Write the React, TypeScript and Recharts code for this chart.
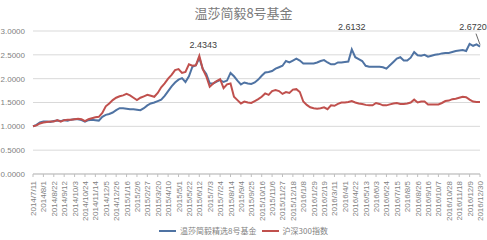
import React from "react";
import { LineChart, Line, XAxis, YAxis, CartesianGrid, LabelList } from "recharts";

const TITLE = "温莎简毅8号基金";
const FUND_NAME = "温莎简毅精选8号基金";
const INDEX_NAME = "沪深300指数";
const START_DATE = "2014-07-11";
const Y_TICKS = [0, 0.5, 1, 1.5, 2, 2.5, 3];

const FUND = [
  1.0, 1.03, 1.08, 1.1, 1.1, 1.09, 1.11, 1.12, 1.11, 1.13,
  1.12, 1.14, 1.15, 1.15, 1.13, 1.1, 1.13, 1.14, 1.13, 1.12,
  1.2, 1.24, 1.26, 1.29, 1.34, 1.38, 1.38, 1.37, 1.36, 1.36,
  1.35, 1.34, 1.38, 1.44, 1.48, 1.5, 1.53, 1.56, 1.64, 1.74,
  1.84, 1.92, 1.98, 2.01, 1.93, 2.05, 2.25, 2.28, 2.4343, 2.2,
  2.1, 1.9, 1.9, 1.94, 1.97, 1.93, 1.96, 2.12, 2.05, 1.96,
  1.88, 1.92, 1.9, 1.89, 1.92, 1.98, 2.06, 2.13, 2.14, 2.16,
  2.21, 2.24, 2.27, 2.37, 2.34, 2.38, 2.42, 2.38, 2.32, 2.32,
  2.32, 2.32, 2.34, 2.37, 2.39, 2.34, 2.3, 2.3, 2.34, 2.34,
  2.35, 2.36, 2.6132, 2.45, 2.41, 2.37, 2.27, 2.25, 2.25, 2.25,
  2.25, 2.24, 2.21, 2.28, 2.35, 2.42, 2.45, 2.38, 2.38, 2.44,
  2.56, 2.49, 2.48, 2.5, 2.46, 2.48, 2.5, 2.51, 2.53, 2.54,
  2.54, 2.56, 2.58, 2.59, 2.6, 2.58, 2.73, 2.69, 2.72, 2.672,
];

const HS300 = [
  1.0, 1.02, 1.06, 1.08, 1.09, 1.1, 1.1, 1.13, 1.1, 1.13,
  1.14, 1.14, 1.15, 1.16, 1.15, 1.11, 1.15, 1.17, 1.19, 1.2,
  1.28, 1.42, 1.48, 1.55, 1.6, 1.63, 1.65, 1.68, 1.65, 1.6,
  1.55, 1.6, 1.63, 1.66, 1.64, 1.62, 1.7, 1.82, 1.9, 2.0,
  2.08, 2.18, 2.2, 2.12, 2.14, 2.3, 2.27, 2.28, 2.48, 2.2,
  2.05, 1.83, 1.9, 1.95, 1.99, 1.8, 1.88, 1.9, 1.62, 1.55,
  1.48, 1.52, 1.5, 1.49, 1.53, 1.57, 1.62, 1.69, 1.66, 1.74,
  1.76, 1.74, 1.68, 1.72, 1.7, 1.77, 1.78, 1.72, 1.52, 1.45,
  1.4, 1.38, 1.37, 1.38, 1.4, 1.36, 1.44, 1.43, 1.47, 1.5,
  1.5, 1.51, 1.53, 1.5, 1.48, 1.47, 1.45, 1.44, 1.44, 1.49,
  1.47, 1.44, 1.44, 1.46, 1.48, 1.49, 1.47, 1.47, 1.48, 1.5,
  1.56, 1.5, 1.52, 1.52, 1.46, 1.46, 1.46, 1.46, 1.49, 1.53,
  1.54, 1.57, 1.58, 1.6, 1.62, 1.61, 1.56, 1.52, 1.51, 1.51,
];

const ANNOTATED = [48, 92, 129];

const fmtDate = (d: Date) =>
  `${d.getUTCFullYear()}/${d.getUTCMonth() + 1}/${d.getUTCDate()}`;

const start = new Date(START_DATE + "T00:00:00Z").getTime();
const DATES = FUND.map((_, i) => fmtDate(new Date(start + i * 7 * 86400000)));

const data = DATES.map((date, i) => ({ date, fund: FUND[i], hs300: HS300[i] }));

const FONT = "'Liberation Sans', Arial, sans-serif";
const TEXT = "#7f7f7f";
const BLUE = "#4f73a3";
const RED = "#c0504d";

const XTick = (props: any) => {
  const { x, y, payload } = props;
  return (
    <text
      x={x - 2}
      y={y}
      dy={3}
      transform={`rotate(-90 ${x} ${y})`}
      textAnchor="end"
      fontSize={8}
      fill={TEXT}
      fontFamily={FONT}
    >
      {payload.value}
    </text>
  );
};

const PeakLabel = (props: any) => {
  const { x, y, index, value } = props;
  if (!ANNOTATED.includes(index)) return null;
  const text = Number(value).toFixed(4);
  const common = { fontSize: 9, fill: "#404040", fontFamily: FONT, textAnchor: "middle" as const };
  if (index === 48) {
    return <text x={x + 4} y={y - 10} {...common}>{text}</text>;
  }
  if (index === 92) {
    return <text x={x} y={y - 19} {...common}>{text}</text>;
  }
  return (
    <g>
      <line x1={x - 4} y1={y - 13} x2={x} y2={y - 2} stroke="#404040" strokeWidth={0.8} />
      <text x={x - 7} y={y - 17} {...common}>{text}</text>
    </g>
  );
};

export default function App() {
  return (
    <div style={{ position: "absolute", left: 0, top: 0, width: 487, height: 240, background: "#fff" }}>
      <div
        style={{
          position: "absolute",
          left: 0,
          top: 4,
          width: 487,
          textAlign: "center",
          fontSize: 13,
          color: "#7a7a7a",
          fontFamily: "'Noto Sans CJK SC', sans-serif",
          lineHeight: "17px",
        }}
      >
        {TITLE}
      </div>
      <LineChart
        width={487}
        height={240}
        data={data}
        margin={{ top: 31, right: 7, left: 0, bottom: 22 }}
      >
        <CartesianGrid vertical={false} stroke="#d9d9d9" />
        <XAxis
          dataKey="date"
          interval={2}
          height={44}
          tick={<XTick />}
          tickLine={{ stroke: "#bfbfbf" }}
          tickSize={3}
          axisLine={{ stroke: "#bfbfbf" }}
        />
        <YAxis
          domain={[0, 3]}
          ticks={Y_TICKS}
          width={33}
          axisLine={false}
          tickLine={false}
          tickFormatter={(v: number) => v.toFixed(4)}
          tick={{ fontSize: 8, fill: TEXT, fontFamily: FONT }}
        />
        <Line
          dataKey="fund"
          stroke={BLUE}
          strokeWidth={2}
          dot={false}
          isAnimationActive={false}
        >
          <LabelList dataKey="fund" content={<PeakLabel />} />
        </Line>
        <Line
          dataKey="hs300"
          stroke={RED}
          strokeWidth={2}
          dot={false}
          isAnimationActive={false}
        />
      </LineChart>
      <div
        style={{
          position: "absolute",
          left: 0,
          top: 225,
          width: 487,
          display: "flex",
          justifyContent: "center",
          alignItems: "center",
          fontSize: 8,
          color: TEXT,
          fontFamily: "'Noto Sans CJK SC', sans-serif",
          lineHeight: "12px",
        }}
      >
        <span style={{ display: "inline-block", width: 17, height: 2, background: BLUE, marginRight: 4 }} />
        <span style={{ marginRight: 5 }}>{FUND_NAME}</span>
        <span style={{ display: "inline-block", width: 17, height: 2, background: RED, marginRight: 4 }} />
        <span>{INDEX_NAME}</span>
      </div>
    </div>
  );
}
